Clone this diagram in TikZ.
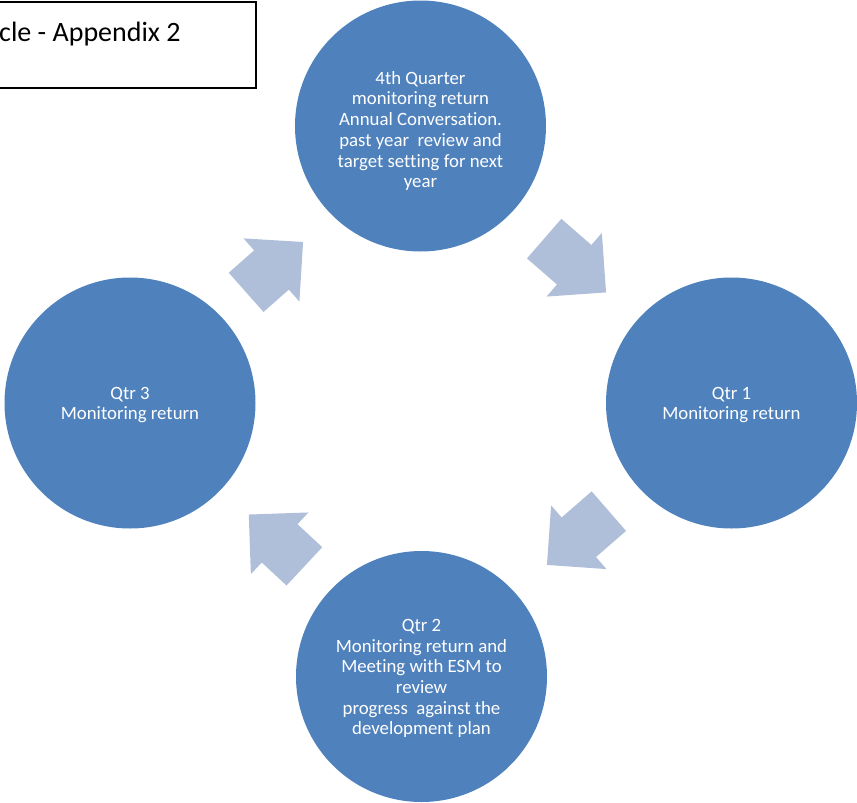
\documentclass[tikz,border=0pt]{standalone}
\usepackage{fontspec}
\setmainfont{Carlito}[Ligatures=NoCommon]
\usetikzlibrary{shapes.arrows}
\definecolor{circleblue}{RGB}{79,129,189}
\definecolor{arrowblue}{RGB}{175,191,218}
\tikzset{
  stage/.style={
    circle,
    fill=circleblue,
    minimum size=251pt,
    inner sep=0pt
  },
  stagetext/.style={
    text=white,
    align=center,
    inner sep=0pt,
    font=\fontsize{18.8}{20.7}\selectfont
  },
  flow/.style={
    single arrow,
    fill=arrowblue,
    inner xsep=0pt,
    inner ysep=26pt,
    minimum width=0pt,
    single arrow head extend=16pt,
    single arrow tip angle=90,
    anchor=tail
  },
  titlebox/.style={draw=black, line width=1.8pt}
}

\begin{document}
\begin{tikzpicture}[x=1pt, y=-1pt]
  \useasboundingbox (0,0) rectangle (857,803);
  % title box, cut at the left edge
  \draw[titlebox] (-20,2) rectangle (256,88);
  \node[anchor=base west, inner sep=0pt, font=\fontsize{28}{32}\selectfont] (title) at (-1,41) {cle - Appendix 2};
  % the four stages
  \node[stage] (q4) at (420.5,126) {};
  \node[stage] (q1) at (731.5,403) {};
  \node[stage] (q2) at (421.5,676.5) {};
  \node[stage] (q3) at (130,403) {};
  \node[stagetext] (q4text) at ([yshift=-5pt]q4.center) {4th Quarter\\monitoring return\\Annual Conversation.\\past year\ \ review and\\target setting for next\\year};
  \node[stagetext] (q1text) at ([yshift=-2pt]q1.center) {Qtr 1\\Monitoring return};
  \node[stagetext] (q2text) at ([yshift=-2pt]q2.center) {Qtr 2\\Monitoring return and\\Meeting with ESM to\\review\\progress\ \ against the\\development plan};
  \node[stagetext] (q3text) at ([yshift=-2pt]q3.center) {Qtr 3\\Monitoring return};
  % arrows between stages
  \node[flow, minimum height=82pt, rotate=-41] (a41) at (544,238.5) {};
  \node[flow, minimum height=82pt, rotate=-139] (a12) at (609,511) {};
  \node[flow, minimum height=76pt, rotate=137] (a23) at (304.5,566.5) {};
  \node[flow, minimum height=76pt, rotate=41.5] (a34) at (246,292.5) {};
\end{tikzpicture}
\end{document}
